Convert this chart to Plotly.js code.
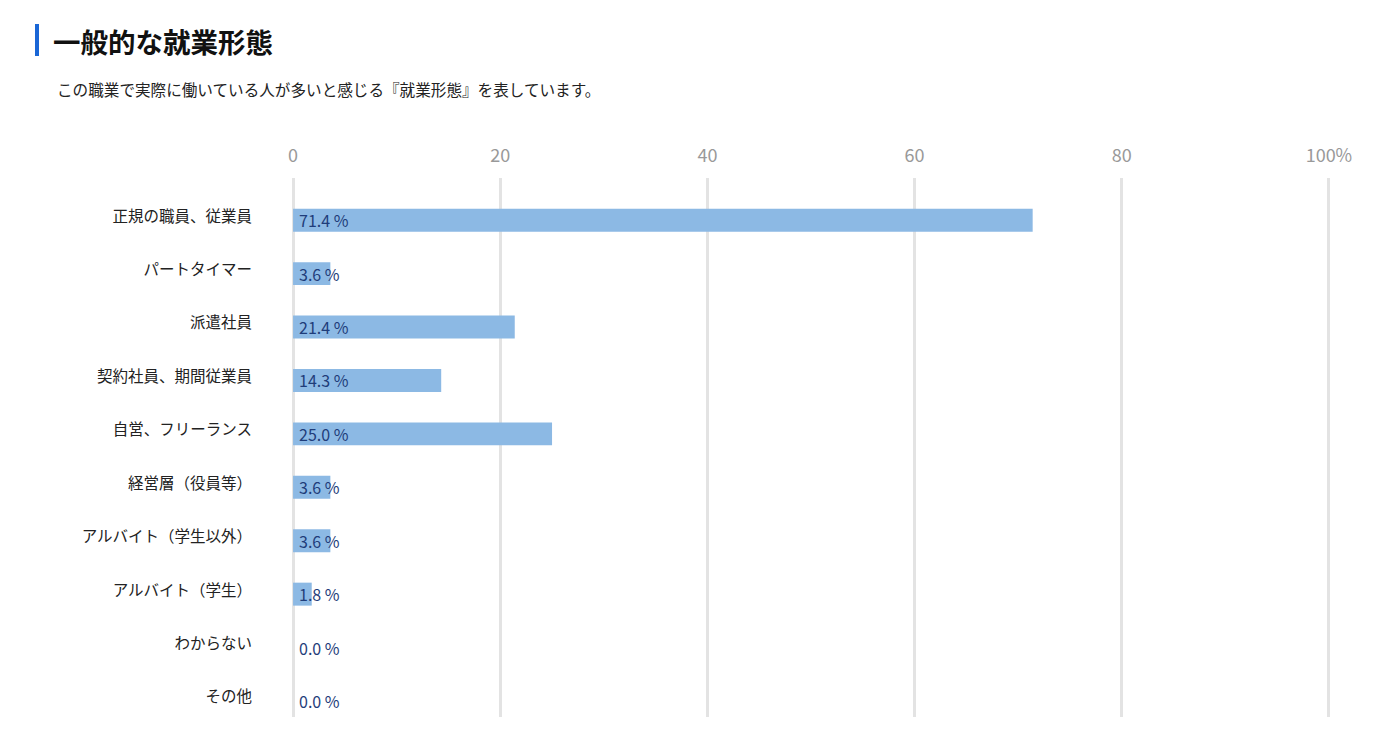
<!DOCTYPE html>
<html><head><meta charset="utf-8">
<script src="https://cdn.plot.ly/plotly-3.0.1.min.js"></script>
<style>
body{margin:0;background:#fff;font-family:"Noto Sans CJK JP",sans-serif;}
#wrap{position:relative;width:1400px;height:739px;}
#bar{position:absolute;left:35px;top:24px;width:4px;height:32px;background:#1a66d6;}
#title{position:absolute;left:53px;top:22px;font-size:27.5px;font-weight:bold;color:#111;line-height:38px;}
#sub{position:absolute;left:57px;top:78px;font-size:15.6px;color:#222;line-height:22px;}
#chart{position:absolute;left:0;top:0;width:1400px;height:739px;}
</style></head><body>
<div id="wrap">
<div id="chart"></div>
<div id="bar"></div>
<div id="title">一般的な就業形態</div>
<div id="sub">この職業で実際に働いている人が多いと感じる『就業形態』を表しています。</div>
</div>
<script>
const categories = ["正規の職員、従業員","パートタイマー","派遣社員","契約社員、期間従業員","自営、フリーランス","経営層（役員等）","アルバイト（学生以外）","アルバイト（学生）","わからない","その他"];
const values = [71.4,3.6,21.4,14.3,25.0,3.6,3.6,1.8,0.0,0.0];
const tickVals = [0,20,40,60,80,100];
const tickLabels = ["0","20","40","60","80","100%"];
const labels = values.map(v => v.toFixed(1) + " %");

const font = "Noto Sans CJK JP, sans-serif";
const annotations = categories.map((c, i) => ({
  x: 0, y: c, xref: "x", yref: "y", text: labels[i], showarrow: false,
  xanchor: "left", yanchor: "middle", xshift: 4, yshift: 0,
  font: {family: font, size: 16, color: "#1f3d7a"}
}));
Plotly.newPlot("chart", [
  {type:"bar", orientation:"h", x:values, y:categories, marker:{color:"#8cb9e4"}, width:0.43, hoverinfo:"none"}
], {
  width:1400, height:739, showlegend:false,
  margin:{l:291, r:69, t:178, b:22},
  paper_bgcolor:"rgba(0,0,0,0)", plot_bgcolor:"#fff",
  annotations: annotations,
  xaxis:{side:"top", range:[-0.2,100.2], tickvals:tickVals, ticktext:tickLabels, showgrid:true, gridcolor:"#e3e3e3", gridwidth:3,
    zeroline:false, showline:false, ticks:"", ticklabelstandoff:11, tickfont:{family:font, size:18, color:"#999"}, fixedrange:true},
  yaxis:{type:"category", range:[9.3,-0.79], showgrid:false, zeroline:false, showline:false, ticks:"",
    ticklabelstandoff:38, ticklabelshift:4, tickfont:{family:font, size:15.5, color:"#222"}, fixedrange:true}
}, {displayModeBar:false, staticPlot:true});
</script>
</body></html>
